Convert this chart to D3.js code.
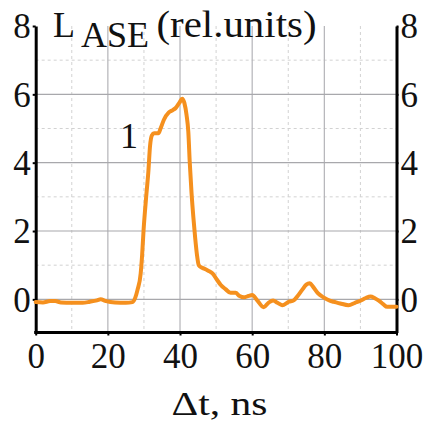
<!DOCTYPE html>
<html>
<head>
<meta charset="utf-8">
<script src="https://cdn.jsdelivr.net/npm/d3@7"></script>
<style>
  html, body { margin: 0; padding: 0; background: #fff; }
  svg { display: block; }
</style>
</head>
<body>
<svg id="chart" width="430" height="424"></svg>
<script>
// ---- data ----
const timeNs = [0, 2, 4, 5.4, 7, 10, 13, 15, 17, 18, 19.5, 22, 25, 26.8, 27.6, 28.2, 29.1, 29.5, 29.9, 30.3, 30.7, 31.2, 31.7, 32.2, 32.8, 34.0, 34.6, 35.5, 36.9, 38.0, 38.8, 39.8, 40.6, 41.2, 41.8, 42.3, 42.7, 43.2, 43.7, 44.2, 44.7, 45.2, 46.0, 46.7, 47.8, 49.0, 50.2, 51.3, 52.6, 54.0, 55.4, 56.5, 57.7, 59.0, 60.0, 61.4, 63.2, 64.5, 65.8, 67.0, 68.3, 70.2, 71.5, 72.6, 73.8, 75.0, 75.9, 77.0, 78.2, 79.9, 81.5, 82.6, 84.4, 86.7, 88.5, 90.0, 91.5, 92.8, 94.0, 95.1, 96.3, 97.4, 100];
const lase = [-0.08, -0.09, -0.05, -0.05, -0.09, -0.1, -0.1, -0.07, -0.03, 0.0, -0.05, -0.09, -0.1, -0.08, 0.05, 0.27, 0.76, 1.3, 2.03, 2.6, 3.1, 3.7, 4.5, 4.8, 4.86, 4.86, 5.0, 5.25, 5.47, 5.54, 5.6, 5.75, 5.87, 5.75, 5.4, 4.9, 4.0, 3.1, 2.4, 1.8, 1.3, 1.0, 0.93, 0.9, 0.84, 0.76, 0.58, 0.42, 0.3, 0.19, 0.19, 0.1, 0.06, 0.1, 0.13, -0.03, -0.23, -0.1, -0.03, -0.1, -0.17, -0.07, -0.03, 0.1, 0.27, 0.43, 0.47, 0.35, 0.18, 0.05, -0.04, -0.07, -0.12, -0.17, -0.1, -0.04, 0.04, 0.08, 0.03, -0.04, -0.14, -0.22, -0.22];
const xTicks = [0, 20, 40, 60, 80, 100];
const xMinorGrid = [10, 30, 50, 70, 90];
const yTicks = [0, 2, 4, 6, 8];
const yMajorGrid = [0, 2, 4, 6];
const yMinorGrid = [1, 3, 5, 7];
const curveLabel = "1";
const xTitle = "Δt, ns";

const SERIF = "'Liberation Serif'";

// ---- layout ----
const svg = d3.select("#chart");
const x = d3.scaleLinear().domain([0, 100]).range([35.7, 396.5]);
const y = d3.scaleLinear().domain([-0.97, 8]).range([332.5, 26]);
const y0 = y.range()[0], yTop = y(8);

const grid = svg.append("g");
grid.selectAll(".vmin").data(xMinorGrid).join("line")
  .attr("x1", d => x(d)).attr("x2", d => x(d)).attr("y1", yTop).attr("y2", y0)
  .attr("stroke", "#d2d2d2").attr("stroke-width", 1).attr("stroke-dasharray", "3,3");
grid.selectAll(".hmin").data(yMinorGrid).join("line")
  .attr("x1", x(0)).attr("x2", x(100)).attr("y1", d => y(d)).attr("y2", d => y(d))
  .attr("stroke", "#d2d2d2").attr("stroke-width", 1).attr("stroke-dasharray", "3,3");
grid.selectAll(".vmaj").data(xTicks.slice(1, -1)).join("line")
  .attr("x1", d => x(d)).attr("x2", d => x(d)).attr("y1", yTop).attr("y2", y0)
  .attr("stroke", "#b4b4b8").attr("stroke-width", 1.2);
grid.selectAll(".hmaj").data(yMajorGrid).join("line")
  .attr("x1", x(0)).attr("x2", x(100)).attr("y1", d => y(d)).attr("y2", d => y(d))
  .attr("stroke", "#a8a8ac").attr("stroke-width", 1.2);

// axes
function styleAxis(g) {
  g.attr("font-family", null).attr("font-size", null);
  g.select(".domain").attr("stroke", "#000").attr("stroke-width", 3);
  g.selectAll(".tick line").attr("stroke", "#000").attr("stroke-width", 2);
  g.selectAll(".tick text").style("font-family", SERIF).style("font-size", "35px").attr("fill", "#111");
}
const gl = svg.append("g").attr("transform", `translate(${x(0)},0)`)
  .call(d3.axisLeft(y).tickValues(yTicks).tickSize(3).tickSizeOuter(0).tickPadding(2));
styleAxis(gl);
gl.selectAll(".tick text").attr("dy", "0.34em");
const gr = svg.append("g").attr("transform", `translate(${x(100)},0)`)
  .call(d3.axisRight(y).tickValues(yTicks).tickSize(2).tickSizeOuter(0).tickPadding(2));
styleAxis(gr);
gr.selectAll(".tick text").attr("dy", "0.34em");
const gb = svg.append("g").attr("transform", `translate(0,${y0})`)
  .call(d3.axisBottom(x).tickValues(xTicks).tickSize(3).tickSizeOuter(0).tickPadding(8));
styleAxis(gb);
gb.selectAll(".tick text").attr("dy", "0.71em");
gb.select(".domain").attr("d", `M${x(0)-1.5},0H${x(100)+1.5}`);

// curve
const pts = timeNs.map((t, i) => [t, lase[i]]);
svg.append("path").datum(pts)
  .attr("fill", "none").attr("stroke", "#f5901e").attr("stroke-width", 4)
  .attr("stroke-linejoin", "round").attr("stroke-linecap", "round")
  .attr("d", d3.line().x(d => x(d[0])).y(d => y(d[1])).curve(d3.curveMonotoneX));

// labels
function lab(xp, yp, size, txt) {
  return svg.append("text").attr("x", xp).attr("y", yp)
    .style("font-family", SERIF).style("font-size", size + "px").attr("fill", "#111").text(txt);
}
lab(53, 36.7, 36, "L");
lab(81, 46.7, 36, "ASE");
lab(156.5, 36.7, 37, "(rel.units)").attr("textLength", 160).attr("lengthAdjust", "spacingAndGlyphs");
lab(129, 148.3, 36, curveLabel).attr("text-anchor", "middle");
lab(171.5, 415, 33, xTitle).attr("textLength", 96).attr("lengthAdjust", "spacingAndGlyphs");
</script>
</body>
</html>
